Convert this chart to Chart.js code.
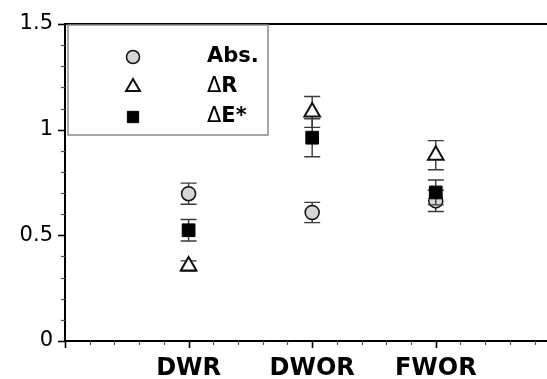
<!DOCTYPE html>
<html>
<head>
<meta charset="utf-8">
<script src="https://cdn.jsdelivr.net/npm/chart.js@4/dist/chart.umd.min.js"></script>
<style>
  html, body { margin: 0; padding: 0; background: #fff; }
  #wrap { width: 547px; height: 379px; }
</style>
</head>
<body>
<div id="wrap"><canvas id="c" width="547" height="379"></canvas></div>
<script>
// Groups along the x axis (placed at 1, 2, 3)
const categories = ['DWR', 'DWOR', 'FWOR'];

// Series means and +/- error
const absValues = [0.697, 0.608, 0.663];
const absErrors = [0.050, 0.048, 0.050];
const dRValues  = [0.355, 1.084, 0.879];
const dRErrors  = [0.024, 0.073, 0.069];
const dEValues  = [0.524, 0.962, 0.703];
const dEErrors  = [0.051, 0.090, 0.059];

const seriesNames = ['Abs.', '\u0394R', '\u0394E*'];

// Labelled y ticks
const yMajorTicks = [0, 0.5, 1, 1.5];
const yTickLabels = ['0', '0.5', '1', '1.5'];

const FONT = "'DejaVu Sans', 'Liberation Sans', Arial, sans-serif";

const styles = [
  { pointStyle: 'circle',   radius: 7,   bg: '#d6d6d6', border: '#111', bw: 1.5 },
  { pointStyle: 'triangle', radius: 9,   bg: '#ffffff', border: '#111', bw: 2 },
  { pointStyle: 'rect',     radius: 9,   bg: '#000000', border: '#000', bw: 1 }
];

function pts(vals) { return vals.map((v, i) => ({ x: i + 1, y: v })); }

const allValues = [absValues, dRValues, dEValues];
const allErrors = [absErrors, dRErrors, dEErrors];

const near = (a, b) => Math.abs(a - b) < 1e-6;
const isYMajor = v => yMajorTicks.some(m => near(m, v));
const isXMajor = v => near(v, Math.round(v));

// Vertical error bars, drawn just under each dataset's own markers
const errorBars = {
  id: 'errorBars',
  beforeDatasetDraw(chart, args) {
    const i = args.index;
    const { ctx, scales: { x, y } } = chart;
    const vals = allValues[i], errs = allErrors[i];
    ctx.save();
    ctx.strokeStyle = '#3a3a3a';
    ctx.lineWidth = 1.4;
    vals.forEach((v, k) => {
      const px = x.getPixelForValue(k + 1);
      const top = y.getPixelForValue(v + errs[k]);
      const bot = y.getPixelForValue(v - errs[k]);
      ctx.beginPath();
      ctx.moveTo(px, top); ctx.lineTo(px, bot);
      ctx.moveTo(px - 8, top); ctx.lineTo(px + 8, top);
      ctx.moveTo(px - 8, bot); ctx.lineTo(px + 8, bot);
      ctx.stroke();
    });
    ctx.restore();
  }
};

// Frame line along the top, outward tick marks (long major / short minor)
const frameTicks = {
  id: 'frameTicks',
  afterDraw(chart) {
    const { ctx, chartArea: a, scales: { x, y } } = chart;
    ctx.save();
    ctx.strokeStyle = '#000';
    ctx.lineWidth = 2;
    ctx.beginPath();
    ctx.moveTo(a.left - 1, a.top); ctx.lineTo(a.right, a.top);
    ctx.stroke();
    y.ticks.forEach(t => {
      const py = Math.round(y.getPixelForValue(t.value)) + 0.5;
      const major = isYMajor(t.value);
      ctx.strokeStyle = major ? '#000' : '#555';
      ctx.lineWidth = major ? 1.6 : 1.2;
      ctx.beginPath();
      ctx.moveTo(a.left - (major ? 7 : 4), py); ctx.lineTo(a.left, py);
      ctx.stroke();
    });
    x.ticks.forEach(t => {
      const px = Math.round(x.getPixelForValue(t.value)) + 0.5;
      const major = isXMajor(t.value);
      ctx.strokeStyle = major ? '#000' : '#555';
      ctx.lineWidth = major ? 1.6 : 1.2;
      ctx.beginPath();
      ctx.moveTo(px, a.bottom); ctx.lineTo(px, a.bottom + (major ? 7 : 4));
      ctx.stroke();
    });
    ctx.restore();
  }
};

// Boxed key in the upper-left corner of the plot
const keyBox = {
  id: 'keyBox',
  afterDraw(chart) {
    const { ctx, chartArea: a } = chart;
    const bx = a.left + 3, by = a.top + 1, bw = 200, bh = 110;
    ctx.save();
    ctx.fillStyle = '#fff';
    ctx.fillRect(bx, by, bw, bh);
    ctx.strokeStyle = '#8a8a8a';
    ctx.lineWidth = 1.5;
    ctx.strokeRect(bx, by, bw, bh);
    const rows = [57, 87, 117];
    seriesNames.forEach((name, i) => {
      const s = styles[i];
      const cy = rows[i];
      ctx.fillStyle = s.bg;
      ctx.strokeStyle = s.border;
      ctx.lineWidth = s.bw;
      Chart.helpers.drawPoint(ctx, {
        pointStyle: s.pointStyle,
        radius: i === 0 ? 6.5 : 8,
        rotation: 0,
        borderWidth: s.bw
      }, 133, cy);
      let tx = 207;
      ctx.fillStyle = '#000';
      ctx.textBaseline = 'middle';
      ctx.textAlign = 'left';
      let rest = name;
      if (name.charAt(0) === '\u0394') {
        ctx.font = "21px " + FONT;
        ctx.fillText('\u0394', tx, cy);
        tx += ctx.measureText('\u0394').width;
        rest = name.slice(1);
      }
      ctx.font = "bold 21px " + FONT;
      ctx.fillText(rest, tx, cy);
    });
    ctx.restore();
  }
};

const datasets = seriesNames.map((name, i) => ({
  label: name,
  data: pts(allValues[i]),
  pointStyle: styles[i].pointStyle,
  pointRadius: styles[i].radius,
  pointHoverRadius: styles[i].radius,
  pointBackgroundColor: styles[i].bg,
  pointBorderColor: styles[i].border,
  pointBorderWidth: styles[i].bw,
  showLine: false,
  order: 3 - i
}));

new Chart(document.getElementById('c'), {
  type: 'scatter',
  data: { datasets },
  plugins: [errorBars, frameTicks, keyBox],
  options: {
    responsive: false,
    animation: false,
    events: [],
    layout: { autoPadding: false, padding: { top: 24, right: 0, left: 0, bottom: 0 } },
    plugins: { legend: { display: false }, tooltip: { enabled: false } },
    scales: {
      x: {
        type: 'linear',
        min: 0,
        max: 3.9,
        afterBuildTicks(scale) {
          const t = [];
          for (let k = 0; k <= 19; k++) t.push({ value: k * 0.2 });
          scale.ticks = t;
        },
        afterFit(scale) {
          scale.height = 38;
          scale.paddingLeft = 0;
          scale.paddingRight = 0;
        },
        grid: { display: true, drawOnChartArea: false, drawTicks: false },
        border: { display: true, color: '#000', width: 2 },
        ticks: {
          autoSkip: false,
          maxRotation: 0,
          padding: 13,
          color: '#000',
          font: { family: FONT, size: 24, weight: 'bold' },
          callback(v) {
            if (!isXMajor(v)) return '';
            const idx = Math.round(v) - 1;
            return categories[idx] !== undefined ? categories[idx] : '';
          }
        }
      },
      y: {
        min: 0,
        max: 1.5,
        afterFit(scale) {
          scale.width = 65;
          scale.paddingTop = 0;
          scale.paddingBottom = 0;
        },
        grid: { display: true, drawOnChartArea: false, drawTicks: false },
        border: { display: true, color: '#000', width: 2 },
        ticks: {
          stepSize: 0.1,
          autoSkip: false,
          padding: 12,
          color: '#000',
          font: { family: FONT, size: 21 },
          callback(v) {
            const k = yMajorTicks.findIndex(m => near(m, v));
            return k >= 0 ? yTickLabels[k] : '';
          }
        }
      }
    }
  }
});
</script>
</body>
</html>
